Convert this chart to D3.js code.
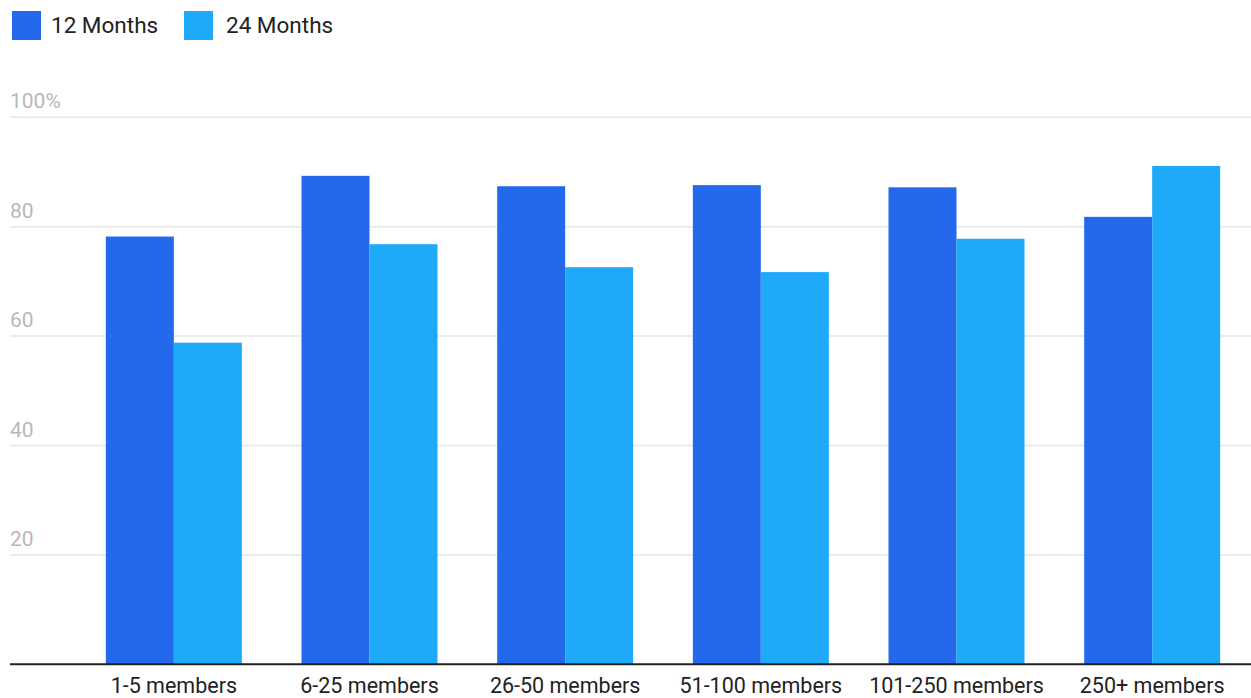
<!DOCTYPE html>
<html>
<head>
<meta charset="utf-8">
<script src="https://cdn.jsdelivr.net/npm/d3@7"></script>
<style>
  html, body { margin: 0; padding: 0; background: #fff; }
  svg { display: block; font-family: Roboto, "Noto Sans", sans-serif; }
</style>
</head>
<body>
<svg id="chart" width="1251" height="698"></svg>
<script>
// Team-size categories and retention share per period
const categories = ["1-5 members", "6-25 members", "26-50 members", "51-100 members", "101-250 members", "250+ members"];
const seriesNames = ["12 Months", "24 Months"];
const months12 = [78.2, 89.3, 87.4, 87.6, 87.2, 81.8];
const months24 = [58.8, 76.8, 72.6, 71.7, 77.8, 91.1];
const yTicks = [20, 40, 60, 80, 100];
const colors = ["#2469eb", "#1faaf9"];

const svg = d3.select("#chart");
const W = 1251;
const gridLeft = 10;
const plot = { left: 76, right: 1250, top: 117.3, bottom: 664.3 };

const x = d3.scaleBand().domain(categories).range([plot.left, plot.right]).paddingInner(0.305).paddingOuter(0.1525);
const x1 = d3.scaleBand().domain(seriesNames).range([0, x.bandwidth()]);
const y = d3.scaleLinear().domain([0, 100]).range([plot.bottom, plot.top]);

// Gridlines with labels above them on the left
const grid = svg.append("g");
grid.selectAll("line").data(yTicks).join("line")
  .attr("x1", gridLeft).attr("x2", W)
  .attr("y1", d => y(d)).attr("y2", d => y(d))
  .attr("stroke", "#e6e6e6").attr("stroke-width", 1.5);
grid.selectAll("text").data(yTicks).join("text")
  .attr("x", gridLeft).attr("y", d => y(d) - 9)
  .attr("fill", "#b8b8b8").attr("font-size", 21)
  .text(d => d === 100 ? "100%" : d);

// Bars
const rows = categories.map((c, i) => ({ cat: c, vals: [months12[i], months24[i]] }));
const groups = svg.append("g").selectAll("g").data(rows).join("g")
  .attr("transform", d => `translate(${x(d.cat)},0)`);
groups.selectAll("rect").data(d => d.vals.map((v, j) => ({ v, s: seriesNames[j], j })))
  .join("rect")
  .attr("x", d => x1(d.s))
  .attr("y", d => y(d.v))
  .attr("width", x1.bandwidth())
  .attr("height", d => y(0) - y(d.v))
  .attr("fill", d => colors[d.j]);

// Baseline
svg.append("line")
  .attr("x1", gridLeft).attr("x2", W)
  .attr("y1", y(0)).attr("y2", y(0))
  .attr("stroke", "#222").attr("stroke-width", 2);

// Category axis labels
const xAxis = d3.axisBottom(x).tickSize(0).tickPadding(0);
const xg = svg.append("g").attr("transform", `translate(0,${y(0)})`).call(xAxis);
xg.select(".domain").remove();
xg.selectAll("text")
  .attr("dy", null).attr("y", 29)
  .attr("fill", "#222").attr("font-size", 21.5)
  .attr("font-family", "Roboto, sans-serif");

// Legend
const legend = svg.append("g");
const legendX = [12, 184];
const legendTextX = [51, 226];
seriesNames.forEach((name, i) => {
  legend.append("rect").attr("x", legendX[i]).attr("y", 11).attr("width", 29).attr("height", 29).attr("fill", colors[i]);
  legend.append("text").attr("x", legendTextX[i]).attr("y", 33)
    .attr("font-size", 22.5).attr("fill", "#222").text(name);
});
</script>
</body>
</html>
